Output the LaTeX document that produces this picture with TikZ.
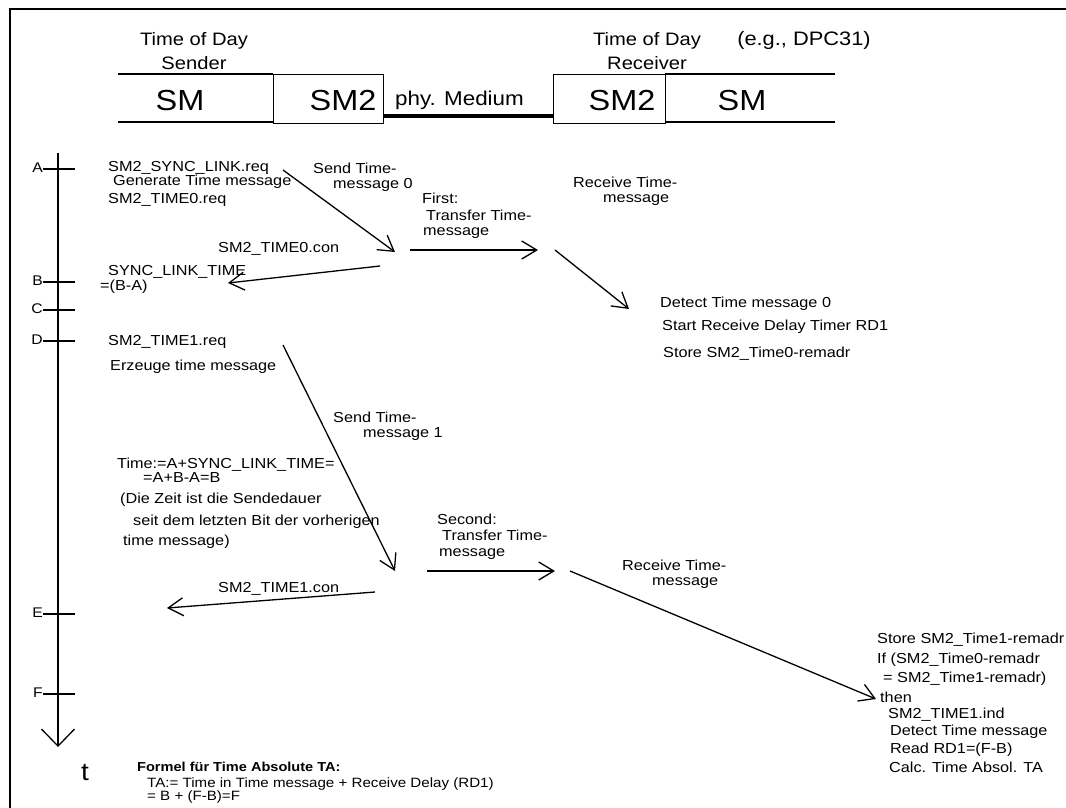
\documentclass[tikz,border=0pt]{standalone}
\usepackage{fontspec}
\setmainfont[FakeStretch=1.12]{Liberation Sans}
\usetikzlibrary{arrows.meta}
\begin{document}
\begin{tikzpicture}[x=1pt,y=-1pt,
  txt/.style={anchor=base west, inner sep=0pt, font=\fontsize{14.5}{17}\selectfont},
  lbl/.style={anchor=base east, inner sep=0pt, font=\fontsize{14}{17}\selectfont},
  big/.style={anchor=base, inner sep=0pt, font=\fontsize{29}{34}\selectfont},
  hdr/.style={anchor=base, inner sep=0pt, font=\fontsize{18}{21}\selectfont},
  ln/.style={line width=1.3pt},
  msg/.style={line width=1.3pt, -{Straight Barb[length=15pt,width=18pt,line width=1.3pt]}},
  boxs/.style={draw, line width=1.3pt, minimum width=110pt, minimum height=49pt, inner sep=0pt, anchor=north west},
]
\useasboundingbox (0,0) rectangle (1066,807);
% frame
\draw[line width=2pt] (10,808) -- (10,9) -- (1067,9);

% header
\node[hdr] (tods1) at (194,45) {Time of Day};
\node[hdr] (tods2) at (194,69) {Sender};
\node[hdr] (todr1) at (647,45) {Time of Day};
\node[hdr] (todr2) at (647,69) {Receiver};
\node[hdr, font=\fontsize{19.5}{22}\selectfont] (eg) at (804,45) {(e.g., DPC31)};
\draw[ln] (118,74) -- (273,74);
\draw[ln] (118,122) -- (273,122);
\node[boxs] (sm2s) at (273,74) {};
\node[boxs, minimum width=112pt] (sm2r) at (553,74) {};
\draw[ln] (665,74) -- (835,74);
\draw[ln] (665,122) -- (835,122);
\node[big] (sms) at (180,110) {SM};
\node[big] (sm2st) at (343,110) {SM2};
\node[big] (sm2rt) at (622,110) {SM2};
\node[big] (smr) at (742,110) {SM};
\node[anchor=base west, inner sep=0pt, font=\fontsize{20}{24}\selectfont] (phy) at (395,105) {phy. Medium};
\draw[line width=4pt] (sm2s.east |- 0,116) -- (sm2r.west |- 0,116);

% time line
\coordinate (tl0) at (58,153);
\coordinate (tl1) at (58,747);
\draw[ln, -{Straight Barb[length=17pt,width=33pt,line width=1.3pt]}] (tl0) -- (tl1);
\foreach \n/\y in {A/169,B/282,C/310,D/341,E/614,F/694}{
  \node[lbl] (lab\n) at (43,\y+3) {\n};
  \draw[ln] (43,\y) -- (75,\y);
}
\node[anchor=base west, inner sep=0pt, font=\fontsize{25}{30}\selectfont] (tt) at (81,780) {t};

% left column texts
\node[txt] (t1) at (108,171) {SM2\_SYNC\_LINK.req};
\node[txt] (t2) at (113,185) {Generate Time message};
\node[txt] (t3) at (108,203) {SM2\_TIME0.req};
\node[txt] (t4) at (313,173) {Send Time-};
\node[txt] (t5) at (333,188) {message 0};
\node[txt] (t6) at (218,252) {SM2\_TIME0.con};
\node[txt] (t7) at (108,275) {SYNC\_LINK\_TIME};
\node[txt] (t8) at (100,290) {=(B-A)};
\node[txt] (t9) at (108,345) {SM2\_TIME1.req};
\node[txt] (t10) at (110,370) {Erzeuge time message};
\node[txt] (t11) at (333,422) {Send Time-};
\node[txt] (t12) at (363,437) {message 1};
\node[txt] (t13) at (117,468) {Time:=A+SYNC\_LINK\_TIME=};
\node[txt] (t14) at (143,482) {=A+B-A=B};
\node[txt] (t15) at (120,503) {(Die Zeit ist die Sendedauer};
\node[txt] (t16) at (133,525) {seit dem letzten Bit der vorherigen};
\node[txt] (t17) at (123,545) {time message)};
\node[txt] (t18) at (218,592) {SM2\_TIME1.con};

% middle / right texts
\node[txt] (r1) at (422,203) {First:};
\node[txt] (r2) at (426,220) {Transfer Time-};
\node[txt] (r3) at (423,235) {message};
\node[txt] (r4) at (573,187) {Receive Time-};
\node[txt] (r5) at (603,202) {message};
\node[txt] (r6) at (660,307) {Detect Time message 0};
\node[txt] (r7) at (662,330) {Start Receive Delay Timer RD1};
\node[txt] (r8) at (663,357) {Store SM2\_Time0-remadr};
\node[txt] (s1) at (437,524) {Second:};
\node[txt] (s2) at (442,540) {Transfer Time-};
\node[txt] (s3) at (439,556) {message};
\node[txt] (s4) at (622,570) {Receive Time-};
\node[txt] (s5) at (652,585) {message};
\node[txt] (u1) at (877,643) {Store SM2\_Time1-remadr};
\node[txt] (u2) at (877,663) {If (SM2\_Time0-remadr};
\node[txt] (u3) at (883,682) {= SM2\_Time1-remadr)};
\node[txt] (u4) at (880,702) {then};
\node[txt] (u5) at (888,718) {SM2\_TIME1.ind};
\node[txt] (u6) at (890,735) {Detect Time message};
\node[txt] (u7) at (890,753) {Read RD1=(F-B)};
\node[txt] (u8) at (889,772) {Calc. Time Absol. TA};

% formula
\node[anchor=base west, inner sep=0pt, font=\bfseries\fontsize{13}{15}\selectfont] (f1) at (137,771) {Formel für Time Absolute TA:};
\node[txt, font=\fontsize{13.5}{16}\selectfont] (f2) at (147,787) {TA:= Time in Time message + Receive Delay (RD1)};
\node[txt, font=\fontsize{13.5}{16}\selectfont] (f3) at (147,800) {= B + (F-B)=F};

% message arrows
\coordinate (a1s) at (283,170); \coordinate (a1e) at (395,252);
\coordinate (a2s) at (380,266); \coordinate (a2e) at (228,283);
\coordinate (a3s) at (283,345); \coordinate (a3e) at (395,571);
\coordinate (a4s) at (375,592); \coordinate (a4e) at (167,608);
\coordinate (a5s) at (410,250); \coordinate (a5e) at (538,250);
\coordinate (a6s) at (555,250); \coordinate (a6e) at (629,309);
\coordinate (a7s) at (427,571); \coordinate (a7e) at (555,571);
\coordinate (a8s) at (570,571); \coordinate (a8e) at (876,699);
\draw[msg] (a1s) -- (a1e);
\draw[msg] (a2s) -- (a2e);
\draw[msg] (a3s) -- (a3e);
\draw[msg] (a4s) -- (a4e);
\draw[msg] (a5s) -- (a5e);
\draw[msg] (a6s) -- (a6e);
\draw[msg] (a7s) -- (a7e);
\draw[msg] (a8s) -- (a8e);
\end{tikzpicture}
\end{document}
